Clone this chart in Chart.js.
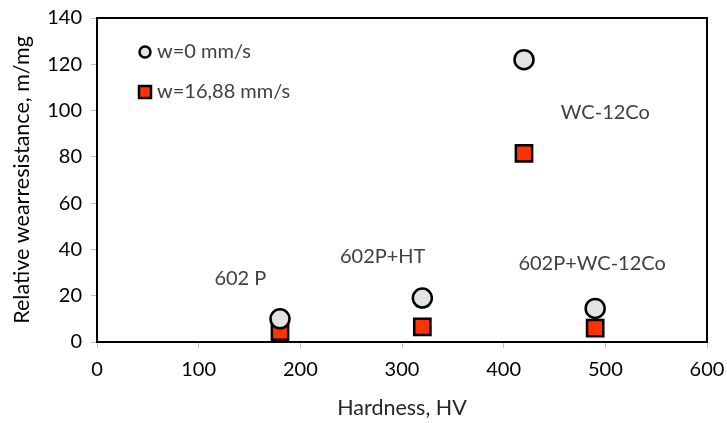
<!DOCTYPE html>
<html lang="en">
<head>
    <meta charset="UTF-8">
    <title>Relative wear resistance vs hardness</title>
    <style>
        body {
            margin: 0;
            background: #ffffff;
        }
        #wrap {
            width: 727px;
            height: 423px;
        }
    </style>
    <script src="https://cdn.jsdelivr.net/npm/chart.js"></script>
</head>
<body>
    <div id="wrap"><canvas id="wearChart" width="727" height="423"></canvas></div>

    <script>
    // Daten
    const hardness = [180, 320, 420, 490];
    const wear0 = [10, 19, 122, 14.5];        // w=0 mm/s
    const wear1688 = [4.5, 6.5, 81.5, 6];     // w=16,88 mm/s
    const seriesNames = ['w=0 mm/s', 'w=16,88 mm/s'];

    // Beschriftungen im Diagramm (Datenkoordinaten)
    const noteTexts = ['602 P', '602P+HT', 'WC-12Co', '602P+WC-12Co'];
    const noteX = [141, 281, 500, 487];
    const noteY = [27.5, 37, 99, 34];

    const xTicks = [0, 100, 200, 300, 400, 500, 600];
    const yTicks = [0, 20, 40, 60, 80, 100, 120, 140];

    const fontName = "Lato, 'Open Sans', sans-serif";
    const fontSize = 20;
    const titleSize = 21.5;
    const textGrey = '#404040';

    // Rahmen, Notizen und Legende im Plotbereich
    const extras = {
        id: 'extras',
        afterDatasetsDraw(chart) {
            const ctx = chart.ctx;
            const a = chart.chartArea;
            const xs = chart.scales.x;
            const ys = chart.scales.y;

            ctx.save();
            ctx.strokeStyle = '#000';
            ctx.lineWidth = 2;
            ctx.beginPath();
            ctx.moveTo(a.left, a.top);
            ctx.lineTo(a.right, a.top);
            ctx.lineTo(a.right, a.bottom);
            ctx.stroke();

            ctx.font = fontSize + 'px ' + fontName;
            ctx.fillStyle = textGrey;
            ctx.textAlign = 'center';
            ctx.textBaseline = 'middle';
            noteTexts.forEach((t, i) => {
                ctx.fillText(t, xs.getPixelForValue(noteX[i]), ys.getPixelForValue(noteY[i]));
            });

            // Legende oben links
            const lx = a.left + 48;
            const rowY = [a.top + 34, a.top + 74];
            chart.data.datasets.forEach((ds, i) => {
                ctx.lineWidth = 2.5;
                ctx.strokeStyle = '#000';
                ctx.fillStyle = ds.backgroundColor;
                ctx.beginPath();
                if (ds.pointStyle === 'rect') {
                    ctx.rect(lx - 6, rowY[i] - 6, 12, 12);
                } else {
                    ctx.arc(lx, rowY[i], 5.5, 0, Math.PI * 2);
                }
                ctx.fill();
                ctx.stroke();
                ctx.fillStyle = textGrey;
                ctx.textAlign = 'left';
                ctx.fillText(ds.label, lx + 12, rowY[i]);
            });
            ctx.restore();
        }
    };

    new Chart(document.getElementById('wearChart'), {
        type: 'scatter',
        data: {
            datasets: [{
                label: seriesNames[0],
                data: hardness.map((h, i) => ({ x: h, y: wear0[i] })),
                pointStyle: 'circle',
                pointRadius: 9.5,
                pointHoverRadius: 9.5,
                backgroundColor: '#e3e3e3',
                borderColor: '#000',
                borderWidth: 2.5
            }, {
                label: seriesNames[1],
                data: hardness.map((h, i) => ({ x: h, y: wear1688[i] })),
                pointStyle: 'rect',
                pointRadius: 11.5,
                pointHoverRadius: 11.5,
                backgroundColor: '#ff3300',
                borderColor: '#000',
                borderWidth: 2.5
            }]
        },
        options: {
            responsive: false,
            animation: false,
            layout: { padding: { top: 18, right: 20, left: 0, bottom: 0 } },
            plugins: {
                legend: { display: false },
                tooltip: { enabled: false }
            },
            scales: {
                x: {
                    type: 'linear',
                    min: 0,
                    max: 600,
                    afterBuildTicks: s => { s.ticks = xTicks.map(v => ({ value: v })); },
                    afterFit: s => { s.height = 81; s.paddingLeft = 0; s.paddingRight = 0; },
                    border: { color: '#000', width: 2 },
                    grid: { drawOnChartArea: false, tickLength: 6, color: '#bfbfbf' },
                    ticks: { color: '#000', font: { family: fontName, size: fontSize }, padding: 10 },
                    title: {
                        display: true,
                        text: 'Hardness, HV',
                        color: '#262626',
                        font: { family: fontName, size: titleSize },
                        padding: { top: 4, bottom: 2 }
                    }
                },
                y: {
                    min: 0,
                    max: 140,
                    afterBuildTicks: s => { s.ticks = yTicks.map(v => ({ value: v })); },
                    afterFit: s => { s.width = 97; s.paddingTop = 0; s.paddingBottom = 0; },
                    border: { color: '#000', width: 2 },
                    grid: { drawOnChartArea: false, tickLength: 6, color: '#bfbfbf' },
                    ticks: { color: '#000', font: { family: fontName, size: fontSize }, padding: 9 },
                    title: {
                        display: true,
                        text: 'Relative wearresistance, m/mg',
                        color: '#000',
                        font: { family: fontName, size: titleSize },
                        padding: { top: 9, bottom: 4 }
                    }
                }
            }
        },
        plugins: [extras]
    });
    </script>
</body>
</html>
